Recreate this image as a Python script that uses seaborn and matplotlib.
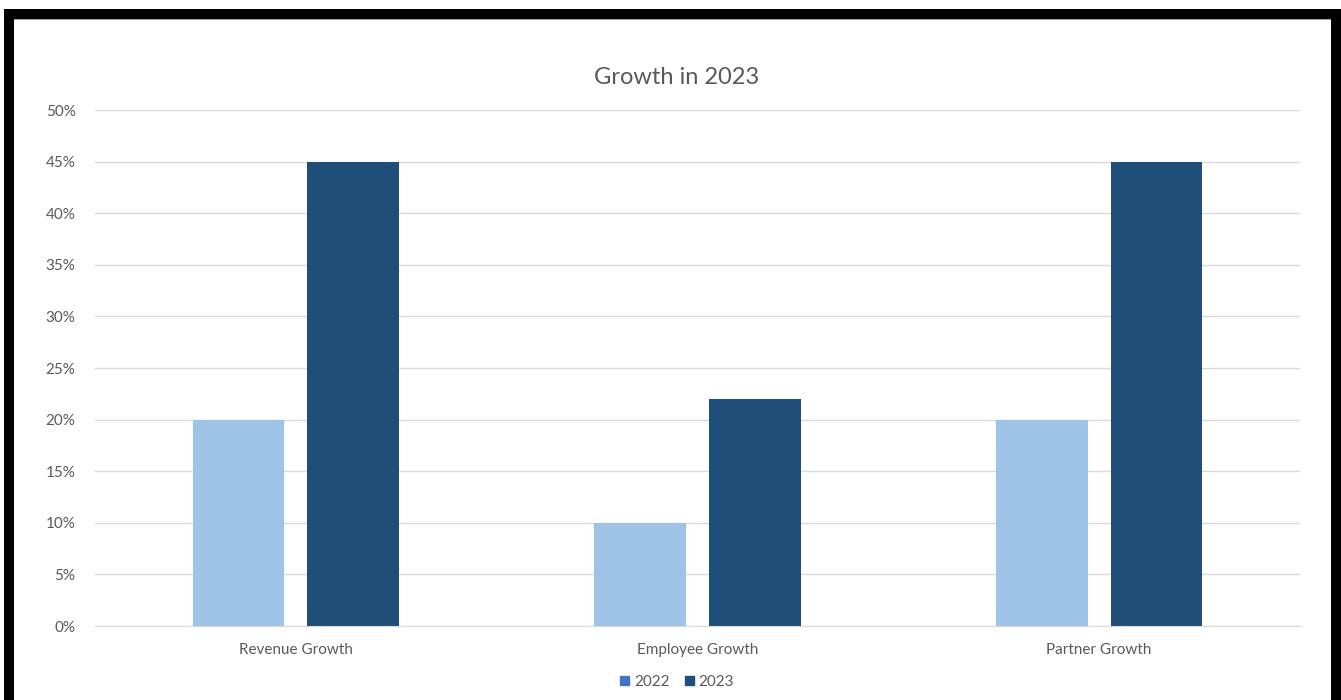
import matplotlib
matplotlib.use("Agg")
import matplotlib.pyplot as plt
from matplotlib.patches import Rectangle, Patch
import seaborn as sns
import pandas as pd

categories = ["Revenue Growth", "Employee Growth", "Partner Growth"]
years = ["2022", "2023"]
values_2022 = [0.20, 0.10, 0.20]
values_2023 = [0.45, 0.22, 0.45]
ytick_vals = [0, 0.05, 0.10, 0.15, 0.20, 0.25, 0.30, 0.35, 0.40, 0.45, 0.50]
ytick_labels = ["0%", "5%", "10%", "15%", "20%", "25%", "30%", "35%", "40%", "45%", "50%"]

bar_colors = ["#9DC3E6", "#1F4E79"]
legend_colors = ["#4472C4", "#1F4E79"]

df = pd.DataFrame({
    "category": categories * 2,
    "year": [years[0]] * 3 + [years[1]] * 3,
    "value": values_2022 + values_2023,
})

sns.set_style("white")
plt.rcParams["font.family"] = ["Lato", "DejaVu Sans"]

W, H = 1341, 700
fig = plt.figure(figsize=(W / 100, H / 100), dpi=100)
fig.patch.set_facecolor("white")

ax = fig.add_axes([95 / W, (H - 626) / H, (1300 - 95) / W, (626 - 110) / H])
sns.barplot(data=df, x="category", y="value", hue="year", palette=bar_colors,
            width=0.571, gap=0.2, ax=ax, legend=False, saturation=1,
            edgecolor="none", linewidth=0)

ax.set_ylim(0, 0.5)
ax.set_xlim(-0.5, 2.5)
ax.set_yticks(ytick_vals)
ax.set_yticklabels(ytick_labels)
ax.grid(axis="y", color="#D9D9D9", linewidth=1)
ax.set_axisbelow(True)
for s in ["top", "right", "left"]:
    ax.spines[s].set_visible(False)
ax.spines["bottom"].set_color("#D9D9D9")
ax.tick_params(axis="both", length=0, colors="#595959", labelsize=11)
ax.tick_params(axis="y", pad=14)
ax.tick_params(axis="x", pad=12)
ax.set_xlabel("")
ax.set_ylabel("")

fig.text(677 / W, 1 - 77 / H, "Growth in 2023", ha="center", va="center",
         fontsize=17, color="#595959")

handles = [Patch(facecolor=c, edgecolor=c) for c in legend_colors]
fig.legend(handles, years, loc="center", bbox_to_anchor=(677 / W, 1 - 682 / H),
           ncol=2, frameon=False, fontsize=11, handlelength=0.6, handleheight=0.6,
           handletextpad=0.3, columnspacing=1.0, labelcolor="#595959")

# black frame
def frame(x0, y0, x1, y1, color="black"):
    fig.patches.append(Rectangle((x0 / W, 1 - y1 / H), (x1 - x0) / W, (y1 - y0) / H,
                                 transform=fig.transFigure, facecolor=color,
                                 edgecolor="none", zorder=10))

frame(14, 19, 1331, 20, "#A0A0A0")
frame(4, 9, 1341, 19)
frame(4, 9, 14, 700)
frame(1331, 9, 1341, 700)

fig.savefig("out.png", dpi=100, facecolor="white")
